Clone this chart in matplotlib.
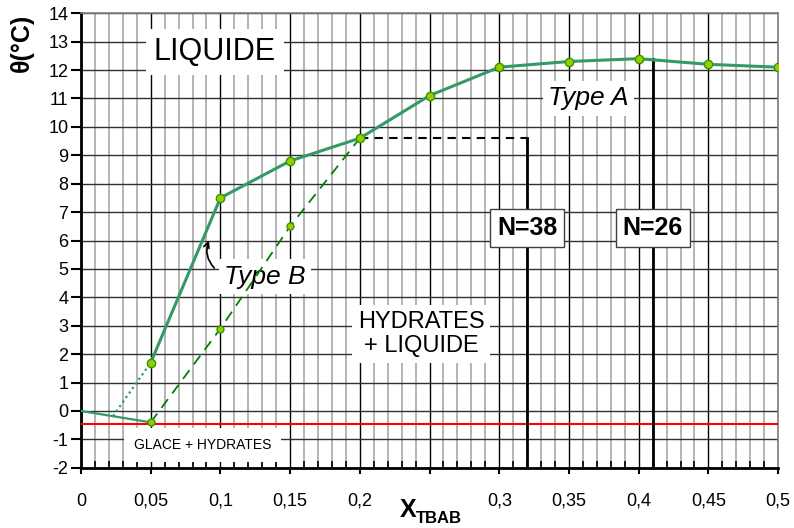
import matplotlib.pyplot as plt
from matplotlib.ticker import MultipleLocator

plt.rcParams['font.family'] = ['Liberation Sans', 'DejaVu Sans']
plt.rcParams['axes.unicode_minus'] = False

# main liquidus curve (solid)
x_main = [0.05, 0.1, 0.15, 0.2, 0.25, 0.3, 0.35, 0.4, 0.45, 0.5]
y_main = [1.7, 7.5, 8.8, 9.6, 11.1, 12.1, 12.3, 12.4, 12.2, 12.1]
# ice branch
x_ice = [0.0, 0.05]
y_ice = [0.0, -0.4]
# dotted extrapolation
x_dot = [0.023, 0.05]
y_dot = [-0.18, 1.7]
# type B metastable branch (dashed)
x_b = [0.05, 0.1, 0.15, 0.2]
y_b = [-0.4, 2.9, 6.5, 9.6]

y_eutectic = -0.47
x_n38, y_n38 = 0.32, 9.6
x_n26, y_n26 = 0.41, 12.4

x_ticks = [0, 0.05, 0.1, 0.15, 0.2, 0.25, 0.3, 0.35, 0.4, 0.45, 0.5]
x_labels = ['0', '0,05', '0,1', '0,15', '0,2', '', '0,3', '0,35', '0,4', '0,45', '0,5']
y_ticks = list(range(-2, 15))

fig = plt.figure(figsize=(7.94, 5.28), dpi=100)
ax = fig.add_axes([0.102, 0.114, 0.878, 0.861])

ax.set_xlim(0, 0.5)
ax.set_ylim(-2, 14)
ax.set_xticks(x_ticks)
ax.set_xticklabels(x_labels)
ax.set_yticks(y_ticks)
ax.xaxis.set_minor_locator(MultipleLocator(0.01))

# grid
ax.grid(which='minor', axis='x', color='#b4b4b4', lw=1.4, zorder=0)
ax.grid(which='major', axis='x', color='black', lw=1.0, zorder=0)
ax.grid(which='major', axis='y', color='#303030', lw=1.0, zorder=0)
ax.set_axisbelow(True)

for s in ['top', 'right']:
    ax.spines[s].set_color('#808080')
    ax.spines[s].set_linewidth(1.2)
for s in ['left', 'bottom']:
    ax.spines[s].set_color('black')
    ax.spines[s].set_linewidth(2)

ax.tick_params(axis='y', which='major', direction='out', length=7, width=1.5, pad=2, labelsize=13)
ax.tick_params(axis='x', which='major', direction='out', length=4, width=1.5, pad=14, labelsize=13)
ax.tick_params(axis='x', which='minor', direction='in', length=5, width=1.2)

# text boxes (drawn under curves but above grid)
white = dict(facecolor='white', edgecolor='none', pad=4)
ax.text(0.096, 12.63, 'LIQUIDE', fontsize=22, ha='center', va='center',
        bbox=dict(facecolor='white', edgecolor='none', pad=6), zorder=2)
ax.text(0.364, 11.0, 'Type A', fontsize=19, style='italic', ha='center', va='center',
        bbox=white, zorder=2)
ax.text(0.244, 2.71, 'HYDRATES\n+ LIQUIDE', fontsize=17, ha='center', va='center',
        linespacing=1.15, bbox=white, zorder=2)
ax.text(0.087, -1.19, 'GLACE + HYDRATES', fontsize=10, ha='center', va='center',
        bbox=dict(facecolor='white', edgecolor='none', pad=7), zorder=2)

# eutectic line
ax.axhline(y_eutectic, color='red', lw=1.5, zorder=3)

# N=38 and N=26 markers
ax.plot([x_b[-1], x_n38], [y_n38, y_n38], color='black', lw=1.5, ls=(0, (4, 3)), zorder=3)
ax.plot([x_n38, x_n38], [y_n38, -2], color='black', lw=2, zorder=3)
ax.plot([x_n26, x_n26], [y_n26, -2], color='black', lw=2, zorder=3)
nbox = dict(facecolor='white', edgecolor='#404040', lw=1, pad=5)
ax.text(x_n38, 6.44, 'N=38', fontsize=18, fontweight='bold', ha='center', va='center',
        bbox=nbox, zorder=4)
ax.text(x_n26, 6.44, 'N=26', fontsize=18, fontweight='bold', ha='center', va='center',
        bbox=nbox, zorder=4)

# curves
ax.plot(x_ice, y_ice, color='#339966', lw=1.6, zorder=5)
ax.plot(x_dot, y_dot, color='#339966', lw=1.6, ls=(0, (1, 1.5)), zorder=5)
ax.plot(x_b, y_b, color='#008000', lw=1.3, ls=(0, (6, 4)), zorder=5)
ax.plot(x_b[1:3], y_b[1:3], ls='none', marker='o', ms=5, mfc='#99cc00', mec='#339900', zorder=6)
ax.plot(x_b[0], y_b[0], ls='none', marker='o', ms=5, mfc='#99cc00', mec='#339900', zorder=6)
ax.plot(x_main, y_main, color='#339966', lw=2.2, marker='o', ms=6,
        mfc='#99cc00', mec='#339900', zorder=6)

# Type B label with arrow
ax.text(0.132, 4.73, 'Type B', fontsize=19, style='italic', ha='center', va='center',
        bbox=white, zorder=2)
ax.annotate('', xy=(0.0925, 6.09), xytext=(0.097, 4.96),
            arrowprops=dict(arrowstyle='->', color='black', lw=1.2,
                            connectionstyle='arc3,rad=-0.35'), zorder=7)

# axis labels
fig.text(0.028, 0.918, 'θ(°C)', rotation=90, fontsize=18, fontweight='bold',
         ha='center', va='center')
fig.text(0.503, 0.012, 'X', fontsize=18, fontweight='bold', ha='left', va='bottom')
fig.text(0.524, 0.004, 'TBAB', fontsize=12, fontweight='bold', ha='left', va='bottom')

fig.savefig('out.png', dpi=100)
